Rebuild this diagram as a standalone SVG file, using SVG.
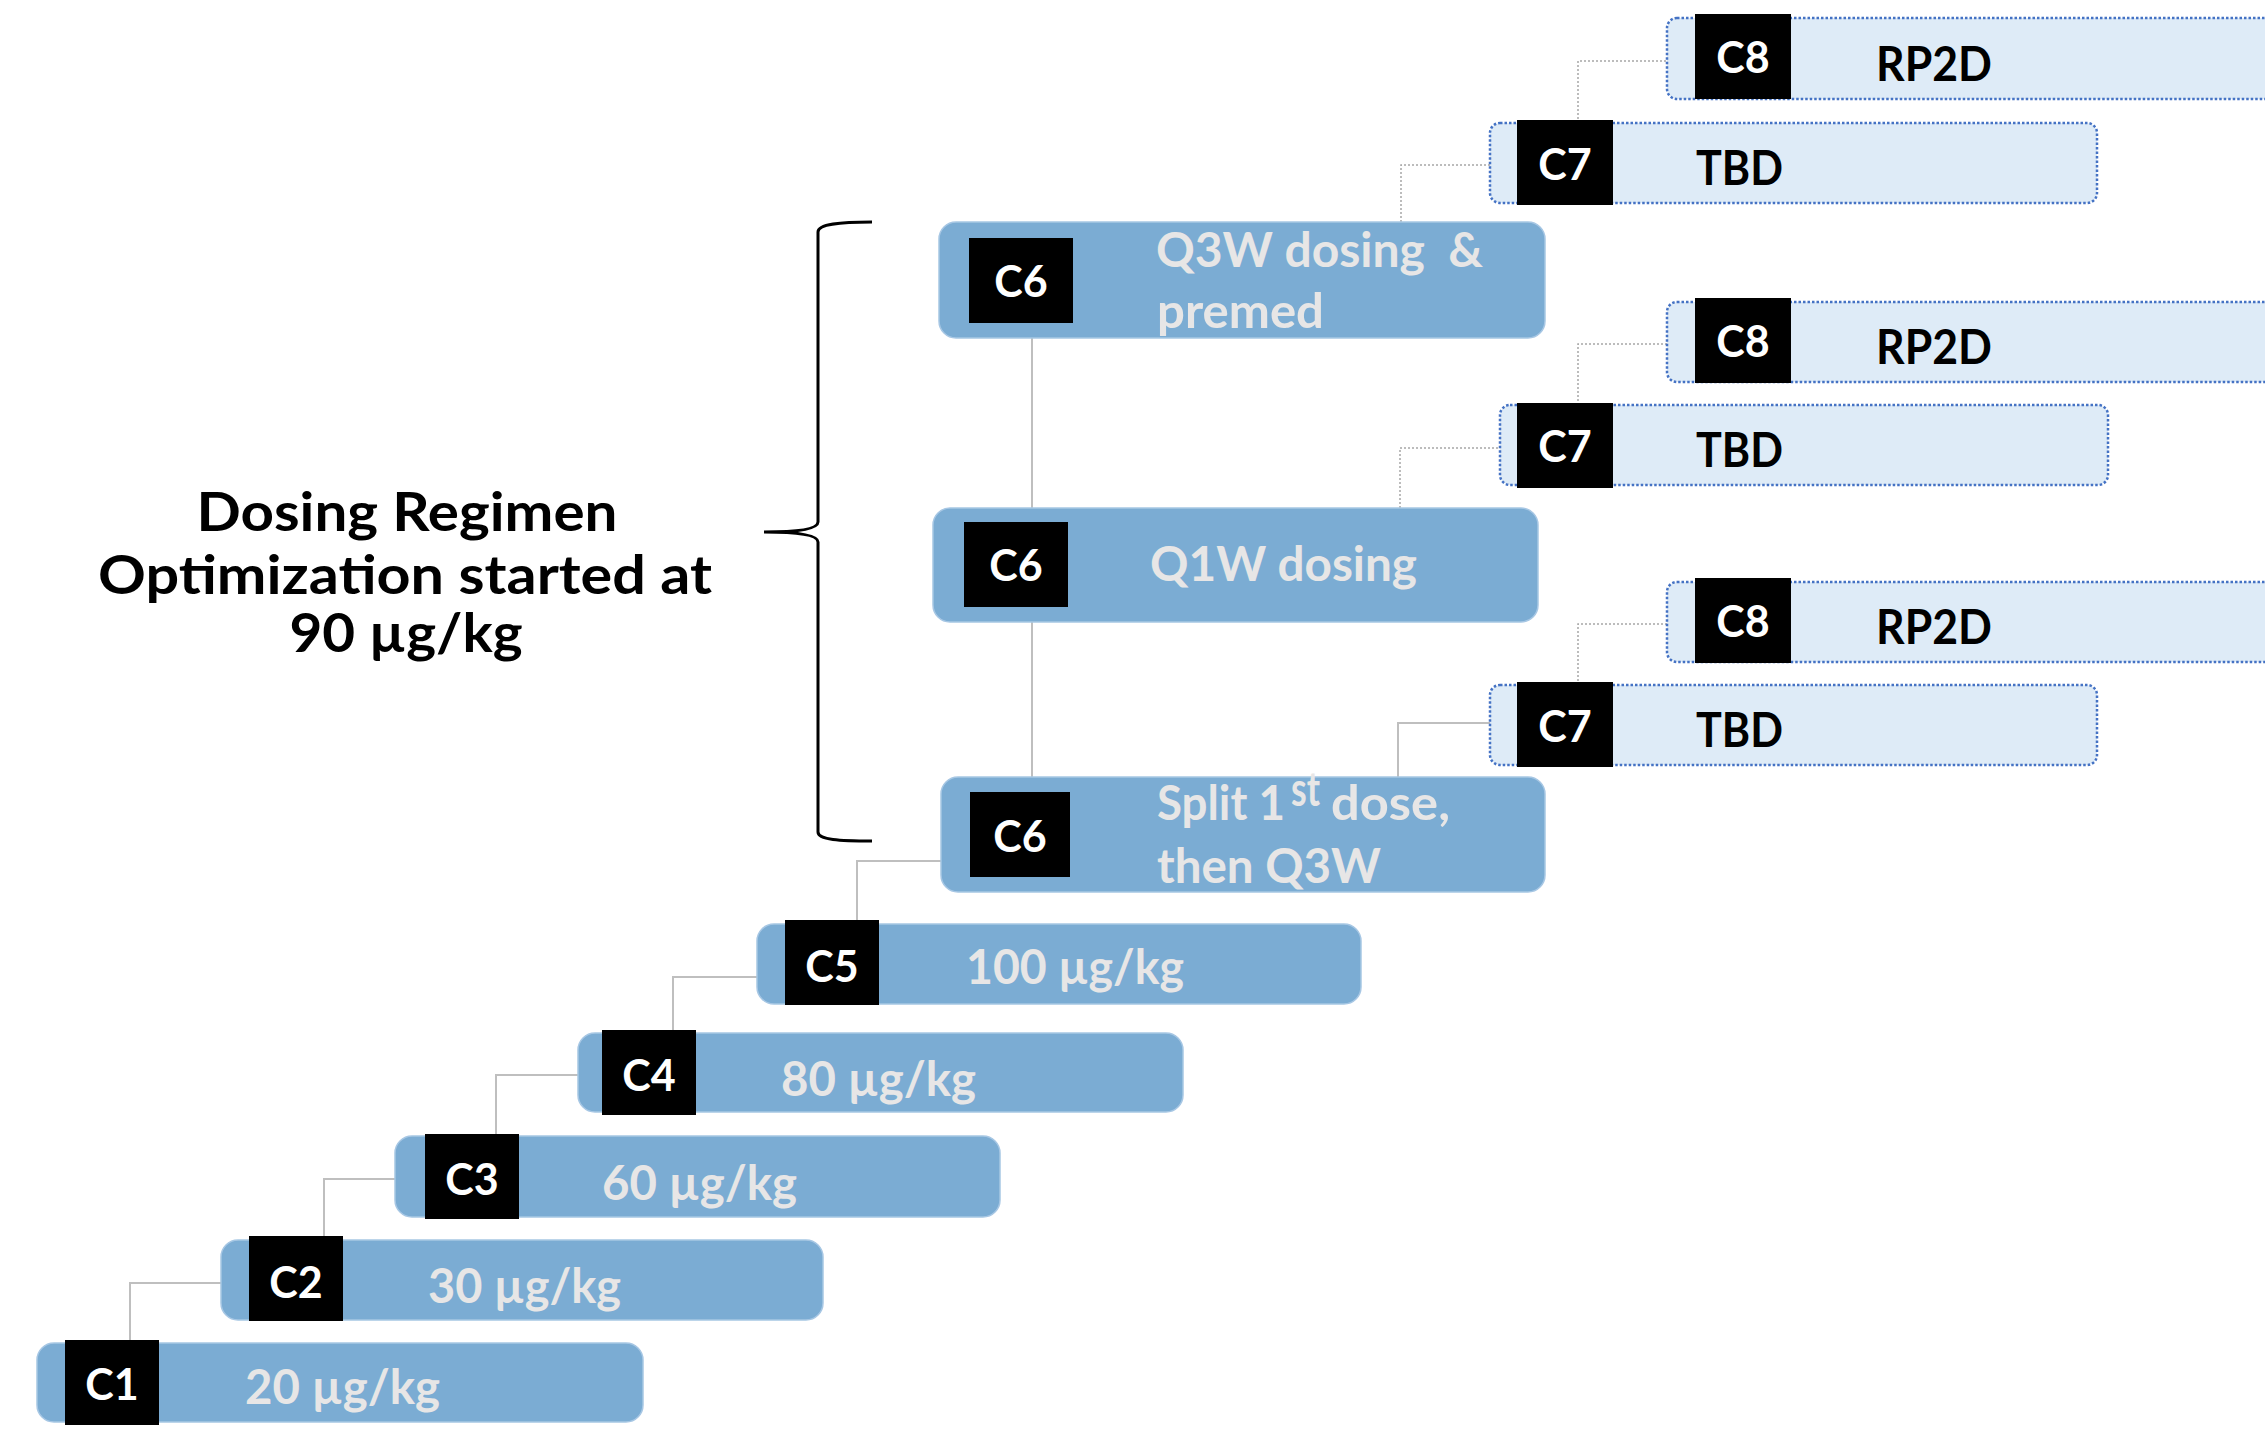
<svg xmlns="http://www.w3.org/2000/svg" width="2265" height="1429" viewBox="0 0 2265 1429">
  <style>
    .bar{fill:#7BACD3;stroke:#A7C7E4;stroke-width:1.5}
    .tbar{fill:#DEEBF7;stroke:#4472C4;stroke-width:2.5;stroke-dasharray:2.5 2}
    .box{fill:#000000}
    .txt{font-family:Lato,"Open Sans","Liberation Sans",sans-serif;font-weight:700}
    .cid{font-size:43px;fill:#FFFFFF;text-anchor:middle}
    .dose{font-size:47px;fill:#E7E6E6}
    .res{font-size:47px;fill:#000000}
    .title{font-size:54px;fill:#000000;text-anchor:middle}
    .link{fill:none;stroke:#BFBFBF;stroke-width:2}
    .dlink{fill:none;stroke:#A6A6A6;stroke-width:1.5;stroke-dasharray:2 2}
    .brace{fill:none;stroke:#000000;stroke-width:3}
  </style>

  <!-- connectors between cohorts -->
  <g id="connectors">
    <path class="link" d="M130 1340 V1283 H221"/>
    <path class="link" d="M324 1236 V1179 H395"/>
    <path class="link" d="M496 1134 V1075 H578"/>
    <path class="link" d="M673 1031 V977 H757"/>
    <path class="link" d="M857 920 V861 H941"/>
    <path class="link" d="M1032 777 V622"/>
    <path class="link" d="M1032 508 V338"/>
    <path class="link" d="M1398 777 V723 H1490"/>
    <path class="dlink" d="M1400 508 V448 H1500"/>
    <path class="dlink" d="M1401 222 V165 H1490"/>
    <path class="dlink" d="M1578 123 V61 H1667"/>
    <path class="dlink" d="M1578 405 V344 H1667"/>
    <path class="dlink" d="M1578 685 V624 H1667"/>
  </g>

  <!-- brace and caption -->
  <g id="regimen-note">
    <path class="brace" d="M872 222 C840 222 818 224 818 232 L818 522 C818 530 792 532 764 532 C792 532 818 534 818 542 L818 832 C818 840 840 841 872 841"/>
    <text class="txt title" x="407" y="531" textLength="421" lengthAdjust="spacingAndGlyphs">Dosing Regimen</text>
    <text class="txt title" x="405" y="594" textLength="614" lengthAdjust="spacingAndGlyphs">Optimization started at</text>
    <text class="txt title" x="406" y="652" textLength="233" lengthAdjust="spacingAndGlyphs">90 µg/kg</text>
  </g>

  <g id="c1">
    <rect class="bar" x="37" y="1343" width="606" height="79" rx="17"/>
    <rect class="box" x="65" y="1340" width="94" height="85"/>
    <text class="txt cid" x="112" y="1400">C1</text>
    <text class="txt dose" x="245" y="1404" textLength="195" lengthAdjust="spacingAndGlyphs">20 µg/kg</text>
  </g>
  <g id="c2">
    <rect class="bar" x="221" y="1240" width="602" height="80" rx="17"/>
    <rect class="box" x="249" y="1236" width="94" height="85"/>
    <text class="txt cid" x="296" y="1298">C2</text>
    <text class="txt dose" x="428" y="1303" textLength="193" lengthAdjust="spacingAndGlyphs">30 µg/kg</text>
  </g>
  <g id="c3">
    <rect class="bar" x="395" y="1136" width="605" height="81" rx="17"/>
    <rect class="box" x="425" y="1134" width="94" height="85"/>
    <text class="txt cid" x="472" y="1195">C3</text>
    <text class="txt dose" x="602" y="1200" textLength="195" lengthAdjust="spacingAndGlyphs">60 µg/kg</text>
  </g>
  <g id="c4">
    <rect class="bar" x="578" y="1033" width="605" height="79" rx="17"/>
    <rect class="box" x="602" y="1030" width="94" height="85"/>
    <text class="txt cid" x="649" y="1091">C4</text>
    <text class="txt dose" x="781" y="1096" textLength="195" lengthAdjust="spacingAndGlyphs">80 µg/kg</text>
  </g>
  <g id="c5">
    <rect class="bar" x="757" y="924" width="604" height="80" rx="17"/>
    <rect class="box" x="785" y="920" width="94" height="85"/>
    <text class="txt cid" x="832" y="982">C5</text>
    <text class="txt dose" x="966" y="984" textLength="218" lengthAdjust="spacingAndGlyphs">100 µg/kg</text>
  </g>

  <g id="c6-split">
    <rect class="bar" x="941" y="777" width="604" height="115" rx="17"/>
    <rect class="box" x="970" y="792" width="100" height="85"/>
    <text class="txt cid" x="1020" y="852">C6</text>
    <text class="txt dose" x="1157" y="820" textLength="128" lengthAdjust="spacingAndGlyphs">Split 1</text>
    <text class="txt dose" x="1291" y="806" font-size="32px" textLength="29" lengthAdjust="spacingAndGlyphs">st</text>
    <text class="txt dose" x="1331" y="820" textLength="119" lengthAdjust="spacingAndGlyphs">dose,</text>
    <text class="txt dose" x="1157" y="883" textLength="224" lengthAdjust="spacingAndGlyphs">then Q3W</text>
  </g>
  <g id="c6-q1w">
    <rect class="bar" x="933" y="508" width="605" height="114" rx="17"/>
    <rect class="box" x="964" y="522" width="104" height="85"/>
    <text class="txt cid" x="1016" y="581">C6</text>
    <text class="txt dose" x="1150" y="581" textLength="267" lengthAdjust="spacingAndGlyphs">Q1W dosing</text>
  </g>
  <g id="c6-q3w">
    <rect class="bar" x="939" y="222" width="606" height="116" rx="17"/>
    <rect class="box" x="969" y="238" width="104" height="85"/>
    <text class="txt cid" x="1021" y="297">C6</text>
    <text class="txt dose" x="1156" y="267" textLength="327" lengthAdjust="spacingAndGlyphs" style="white-space:pre">Q3W dosing  &amp;</text>
    <text class="txt dose" x="1157" y="328" textLength="167" lengthAdjust="spacingAndGlyphs">premed</text>
  </g>

  <g id="c7-top">
    <rect class="tbar" x="1490" y="123" width="607" height="80" rx="10"/>
    <rect class="box" x="1517" y="120" width="96" height="85"/>
    <text class="txt cid" x="1565" y="180">C7</text>
    <text class="txt res" x="1696" y="185" textLength="87" lengthAdjust="spacingAndGlyphs">TBD</text>
  </g>
  <g id="c8-top">
    <rect class="tbar" x="1667" y="18" width="640" height="81" rx="10"/>
    <rect class="box" x="1695" y="14" width="96" height="85"/>
    <text class="txt cid" x="1743" y="73">C8</text>
    <text class="txt res" x="1876" y="81" textLength="116" lengthAdjust="spacingAndGlyphs">RP2D</text>
  </g>
  <g id="c7-mid">
    <rect class="tbar" x="1500" y="405" width="608" height="80" rx="10"/>
    <rect class="box" x="1517" y="403" width="96" height="85"/>
    <text class="txt cid" x="1565" y="462">C7</text>
    <text class="txt res" x="1696" y="467" textLength="87" lengthAdjust="spacingAndGlyphs">TBD</text>
  </g>
  <g id="c8-mid">
    <rect class="tbar" x="1667" y="302" width="640" height="80" rx="10"/>
    <rect class="box" x="1695" y="298" width="96" height="85"/>
    <text class="txt cid" x="1743" y="357">C8</text>
    <text class="txt res" x="1876" y="364" textLength="116" lengthAdjust="spacingAndGlyphs">RP2D</text>
  </g>
  <g id="c7-bot">
    <rect class="tbar" x="1490" y="685" width="607" height="80" rx="10"/>
    <rect class="box" x="1517" y="682" width="96" height="85"/>
    <text class="txt cid" x="1565" y="742">C7</text>
    <text class="txt res" x="1696" y="747" textLength="87" lengthAdjust="spacingAndGlyphs">TBD</text>
  </g>
  <g id="c8-bot">
    <rect class="tbar" x="1667" y="582" width="640" height="80" rx="10"/>
    <rect class="box" x="1695" y="578" width="96" height="85"/>
    <text class="txt cid" x="1743" y="637">C8</text>
    <text class="txt res" x="1876" y="644" textLength="116" lengthAdjust="spacingAndGlyphs">RP2D</text>
  </g>
</svg>
